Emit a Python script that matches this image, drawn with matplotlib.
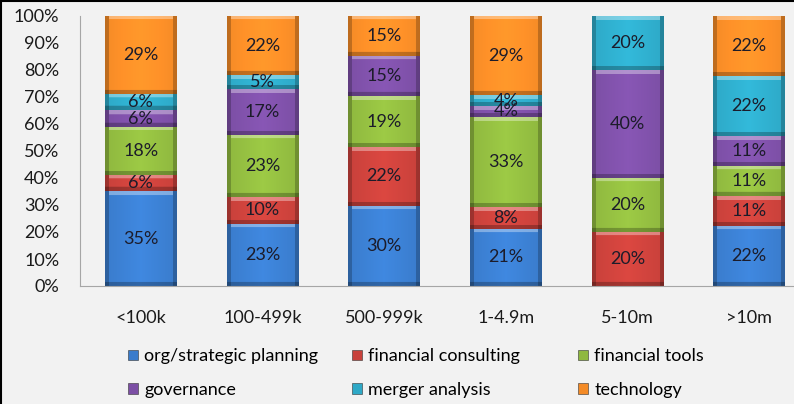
import numpy as np
import matplotlib
matplotlib.use("Agg")
import matplotlib.pyplot as plt
from matplotlib.lines import Line2D
from matplotlib.colors import to_rgb
from matplotlib.ticker import PercentFormatter

categories = ["<100k", "100-499k", "500-999k", "1-4.9m", "5-10m", ">10m"]
series = ["org/strategic planning", "financial consulting", "financial tools",
          "governance", "merger analysis", "technology"]
org = [35, 23, 30, 21, 0, 22]
fin_consulting = [6, 10, 22, 8, 20, 11]
fin_tools = [18, 23, 19, 33, 20, 11]
governance = [6, 17, 15, 4, 40, 11]
merger = [6, 5, 0, 4, 20, 22]
technology = [29, 22, 15, 29, 0, 22]

values = [org, fin_consulting, fin_tools, governance, merger, technology]
colors = ["#3a7ccc", "#c8413b", "#8fb83f", "#7c4fa5", "#2ea9c7", "#f48b27"]

plt.rcParams["font.family"] = ["Lato", "DejaVu Sans"]
BG = "#f2f2f2"

fig = plt.figure(figsize=(7.94, 4.04), dpi=100, facecolor=BG)
ax = fig.add_axes([80 / 794, 1 - 286 / 404, 730 / 794, 270 / 404])
ax.set_facecolor(BG)
ax.set_ylim(0, 100)
ax.set_xlim(-0.5, len(categories) - 0.5)

WIDTH = 0.59
PX_X = 730 / 6        # pixels per category
PX_Y = 270 / 100      # pixels per percent


def bevel(color, h_px, w_px, b=4):
    """Glossy Excel-2007-like bar face: lighter top, darker sides/bottom."""
    h = max(int(round(h_px)), 2)
    w = max(int(round(w_px)), 2)
    base = np.array(to_rgb(color))
    yy, xx = np.mgrid[0:h, 0:w]
    img = np.tile(base, (h, w, 1))
    u = (xx + 0.5) / w
    shade = 1.0 + 0.10 * (1 - np.abs(u - 0.5) * 2)   # centre slightly brighter
    img = img * shade[..., None]
    side = (xx < b) | (xx >= w - b)
    img[side] *= 0.78
    bot = yy >= h - b
    img[bot] *= 0.75
    top = (yy < b) & ~side
    img[top] = img[top] + (1 - img[top]) * 0.35
    return np.clip(img, 0, 1)


x = np.arange(len(categories))
totals = np.sum(values, axis=0).astype(float)
bottom = np.zeros(len(categories))
for name, vals, c in zip(series, values, colors):
    vals = np.array(vals, dtype=float)
    share = vals / totals * 100      # 100% stacked
    bars = ax.bar(x, share, WIDTH, bottom=bottom, color=c, linewidth=0, label=name)
    for xi, b, s, v in zip(x, bottom, share, vals):
        if v <= 0:
            continue
        ax.imshow(bevel(c, s * PX_Y, WIDTH * PX_X), aspect="auto",
                  extent=(xi - WIDTH / 2, xi + WIDTH / 2, b, b + s),
                  interpolation="bilinear", zorder=2)
        ax.text(xi, b + s / 2, f"{int(v)}%", ha="center", va="center",
                fontsize=13, color="#1c1c2a", zorder=3)
    bottom += share

ax.set_ylim(0, 100)
ax.set_xlim(-0.5, len(categories) - 0.5)
ax.yaxis.set_major_formatter(PercentFormatter(decimals=0))
ax.set_yticks(np.arange(0, 101, 10))
ax.set_xticks(x)
ax.set_xticklabels(categories)
ax.tick_params(axis="both", length=0, labelsize=13, colors="#1a1a1a")
ax.tick_params(axis="x", pad=17)
ax.tick_params(axis="y", pad=15)
for s in ["top", "right"]:
    ax.spines[s].set_visible(False)
ax.spines["left"].set_color("#a6a6a6")
ax.spines["bottom"].set_color("#a6a6a6")

# legend: three columns at fixed positions, filled row-wise
col_x = [128, 352, 578]
for i, lx in enumerate(col_x):
    idx = [i, i + 3]
    handles = [plt.Rectangle((0, 0), 1, 1, facecolor=colors[k], edgecolor="#333333",
                             linewidth=0.4) for k in idx]
    fig.legend(handles, [series[k] for k in idx], loc="center left",
               bbox_to_anchor=(lx / 794, 1 - 373 / 404), frameon=False,
               fontsize=13, handlelength=0.55, handleheight=0.55,
               handletextpad=0.35, labelspacing=0.95, borderpad=0,
               borderaxespad=0)

fig.add_artist(Line2D([0, 1], [0.9985, 0.9985], transform=fig.transFigure, color="black", lw=1.5))
fig.add_artist(Line2D([0.0012, 0.0012], [0, 1], transform=fig.transFigure, color="black", lw=1.5))

fig.savefig("out.png", dpi=100, facecolor=fig.get_facecolor())
